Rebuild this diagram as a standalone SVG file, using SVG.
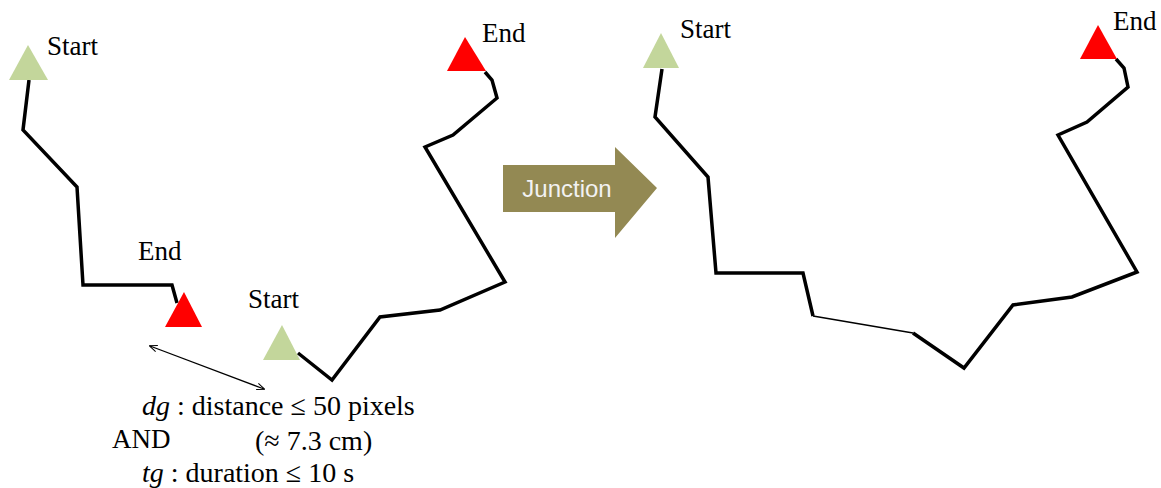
<svg xmlns="http://www.w3.org/2000/svg" width="1161" height="488" viewBox="0 0 1161 488">
<style>
.lbl{font-family:"Liberation Serif","Times New Roman",serif;font-size:27px;fill:#000}
.cond{font-size:28px}
.trk{fill:none;stroke:#000;stroke-width:3.5;stroke-linejoin:miter}
.st{fill:#c3d69b}
.en{fill:#ff0000}
</style>
<defs>
<marker id="ah" viewBox="0 0 10 10" refX="9" refY="5" markerWidth="8" markerHeight="8" orient="auto-start-reverse" markerUnits="userSpaceOnUse">
<path d="M0,1 L10,5 L0,9" fill="none" stroke="#000" stroke-width="1.3"/>
</marker>
</defs>
<g id="connectors">
<path class="trk" d="M29,80 L23,130 L77,187 L83,285 L172,285 L177,303"/>
<path class="trk" d="M298,353 L332,380 L380,317 L440,310 L505,282 L425,147 L453,135 L497,98 L492,80 L485,72"/>
<path class="trk" d="M662,69 L655,117 L708,177 L716,273 L803,273 L813,316"/>
<path fill="none" stroke="#000" stroke-width="1.5" d="M813,316 L913,333"/>
<path class="trk" d="M913,333 L964,368 L1013,305 L1072,297 L1137,272 L1058,135 L1087,122 L1128,87 L1124,68 L1116,59"/>
<path fill="none" stroke="#000" stroke-width="1.3" d="M150,346 L264,389" marker-start="url(#ah)" marker-end="url(#ah)"/>
</g>
<g id="start1"><polygon class="st" points="28,45 9,80 48,80"/><text class="lbl" x="47" y="55">Start</text></g>
<g id="end1"><polygon class="en" points="184,292 165,327 202,327"/><text class="lbl" x="138" y="260">End</text></g>
<g id="start2"><polygon class="st" points="282,325 263,360 300,360"/><text class="lbl" x="248" y="308">Start</text></g>
<g id="end2"><polygon class="en" points="465,37 447,71 486,71"/><text class="lbl" x="482" y="42">End</text></g>
<g id="start3"><polygon class="st" points="661,33 643,68 679,68"/><text class="lbl" x="680" y="38">Start</text></g>
<g id="end3"><polygon class="en" points="1098,25 1080,59 1117,59"/><text class="lbl" x="1113" y="30">End</text></g>
<g id="junction">
<polygon fill="#938953" points="503,165 615,165 615,147 657,188 615,238 615,212 503,212"/>
<text x="567" y="197" text-anchor="middle" font-family="Liberation Sans, Arial, sans-serif" font-size="24" fill="#f2f2f2">Junction</text>
</g>
<g id="condition">
<text class="lbl cond" x="142" y="415"><tspan font-style="italic">dg</tspan> : distance ≤ 50 pixels</text>
<text class="lbl" x="112" y="448" font-size="19">AND</text>
<text class="lbl cond" x="255" y="450">(≈ 7.3 cm)</text>
<text class="lbl cond" x="142" y="482"><tspan font-style="italic">tg</tspan> : duration ≤ 10 s</text>
</g>
</svg>
